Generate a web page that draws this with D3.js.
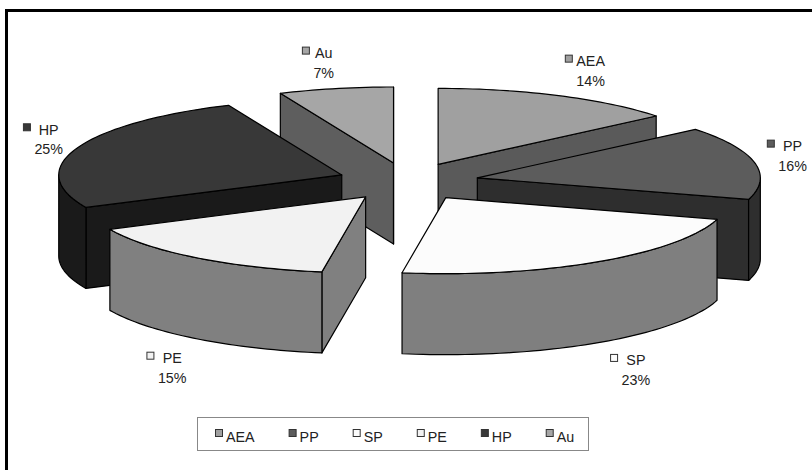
<!DOCTYPE html>
<html>
<head>
<meta charset="utf-8">
<script src="https://cdn.jsdelivr.net/npm/d3@7"></script>
<style>
    html, body { margin: 0; padding: 0; background: #fff; }
    svg { display: block; }
    text { font-family: "Liberation Sans", Arial, sans-serif; font-size: 14.3px; fill: #222; }
</style>
</head>
<body>
<div id="chart"></div>
<script>
// values, the labels show them rounded
const categories = ["AEA", "PP", "SP", "PE", "HP", "Au"];
const shares = [14, 15.6, 22.87, 15.49, 25.49, 6.55];

const topColors = ["#a0a0a0", "#5c5c5c", "#fcfcfc", "#f2f2f2", "#383838", "#a6a6a6"];
const sideColors = ["#5a5a5a", "#2e2e2e", "#7f7f7f", "#808080", "#1a1a1a", "#5e5e5e"];
// shift of each data label from the outer edge of its slice
const labelShifts = [[32, -10], [38, 8], [39, 42], [-24, 44], [-28, 6], [-12, -11]];

const width = 812, height = 470;
const rx = 283, ry = 76, depth = 81, explode = 0.25;

const svg = d3.select("#chart")
    .append("svg")
    .attr("width", width)
    .attr("height", height);

// unit circle to screen, centre of the pie at 0
const xScale = d3.scaleLinear().domain([-1, 1]).range([408 - rx, 408 + rx]);
const yScale = d3.scaleLinear().domain([-1, 1]).range([181.6 - ry, 181.6 + ry]);

const formatPct = d3.format(".0%");
const total = d3.sum(shares);

const slices = d3.pie().sort(null)(shares).map((d, i) => {
    const mid = (d.startAngle + d.endAngle) / 2;
    return {
        name: categories[i],
        value: d.value,
        a0: d.startAngle,
        a1: d.endAngle,
        mid: mid,
        ox: explode * Math.sin(mid),
        oy: -explode * Math.cos(mid),
        top: topColors[i],
        side: sideColors[i],
        shift: labelShifts[i]
    };
});

const line = d3.line().x(p => xScale(p[0])).y(p => yScale(p[1]) + (p[2] || 0));

function onEdge(s, a, drop) {
    return [s.ox + Math.sin(a), s.oy - Math.cos(a), drop];
}

function arcPoints(s, a0, a1, drop) {
    const n = Math.max(2, Math.ceil((a1 - a0) * 40));
    return d3.range(n + 1).map(k => onEdge(s, a0 + (a1 - a0) * k / n, drop));
}

function drawFace(g, pts, fill) {
    g.append("path")
        .attr("d", line(pts) + "Z")
        .attr("fill", fill)
        .attr("stroke", "#000")
        .attr("stroke-width", 1.2)
        .attr("stroke-linejoin", "round");
}

// back to front, the slice furthest back goes first
const pie = svg.append("g");
const ordered = slices.slice().sort((a, b) => a.oy - b.oy);

for (const s of ordered) {
    const g = pie.append("g").attr("class", "slice");
    const apex = [s.ox, s.oy, 0];
    const apexLow = [s.ox, s.oy, depth];

    // cut faces, only the ones turned towards the viewer
    if (Math.sin(s.a0) < 0) {
        drawFace(g, [apex, onEdge(s, s.a0, 0), onEdge(s, s.a0, depth), apexLow], s.side);
    }
    if (Math.sin(s.a1) > 0) {
        drawFace(g, [apex, onEdge(s, s.a1, 0), onEdge(s, s.a1, depth), apexLow], s.side);
    }

    // outer wall, front half of the ellipse only
    const w0 = Math.max(s.a0, Math.PI / 2);
    const w1 = Math.min(s.a1, Math.PI * 1.5);
    if (w1 > w0) {
        drawFace(g, arcPoints(s, w0, w1, 0).concat(arcPoints(s, w0, w1, depth).reverse()), s.side);
    }

    drawFace(g, [apex].concat(arcPoints(s, s.a0, s.a1, 0)), s.top);
}

// data labels
for (const s of slices) {
    const edge = onEdge(s, s.mid, 0);
    const drop = Math.cos(s.mid) < 0 ? depth : 0;
    const cx = xScale(edge[0]) + s.shift[0];
    const base = yScale(edge[1]) + drop + s.shift[1];

    const g = svg.append("g").attr("class", "data-label");
    const nameText = g.append("text")
        .attr("x", cx).attr("y", base - 19.5)
        .attr("text-anchor", "middle")
        .text(s.name);
    const pctText = g.append("text")
        .attr("x", cx).attr("y", base)
        .attr("text-anchor", "middle")
        .text(formatPct(s.value / total));

    const widest = Math.max(nameText.node().getComputedTextLength(), pctText.node().getComputedTextLength());
    g.append("rect")
        .attr("x", cx - widest / 2 - 11)
        .attr("y", base - 30.5)
        .attr("width", 7)
        .attr("height", 7)
        .attr("fill", s.top)
        .attr("stroke", "#333")
        .attr("stroke-width", 1);
}

// legend
const legend = svg.append("g").attr("class", "legend");
legend.append("rect")
    .attr("x", 197.5).attr("y", 417.5)
    .attr("width", 391).attr("height", 33)
    .attr("fill", "#fff")
    .attr("stroke", "#888")
    .attr("stroke-width", 1);

let legendX = 215;
slices.forEach(s => {
    legend.append("rect")
        .attr("x", legendX + 0.5).attr("y", 429.5)
        .attr("width", 7).attr("height", 7)
        .attr("fill", s.top)
        .attr("stroke", "#333")
        .attr("stroke-width", 1);
    const t = legend.append("text")
        .attr("x", legendX + 11).attr("y", 441.5)
        .text(s.name);
    legendX += 11 + t.node().getComputedTextLength() + 34;
});

// frame, only top and left show in the picture
svg.append("path")
    .attr("d", d3.line()([[6.5, height], [6.5, 10.5], [width, 10.5]]))
    .attr("fill", "none")
    .attr("stroke", "#000")
    .attr("stroke-width", 3);
</script>
</body>
</html>
